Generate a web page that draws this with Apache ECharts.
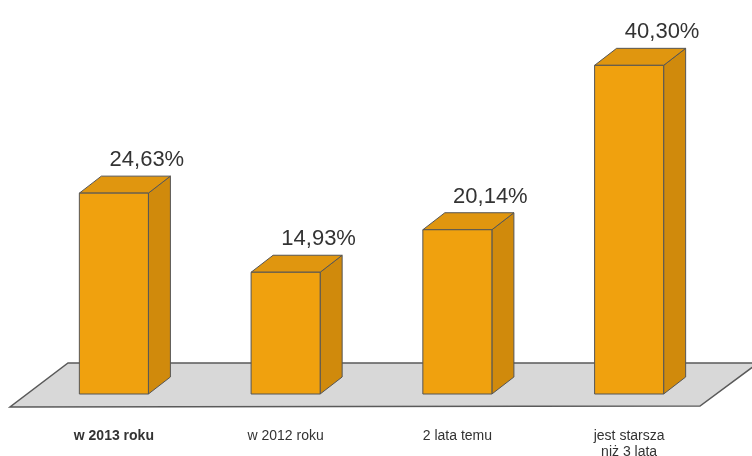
<!DOCTYPE html>
<html>
<head>
<meta charset="utf-8">
<script src="https://cdn.jsdelivr.net/npm/echarts@6/dist/echarts.min.js"></script>
<style>
html,body{margin:0;padding:0;background:#fff;}
#c{width:752px;height:456px;}
</style>
</head>
<body>
<div id="c"></div>
<script>
const categories = ['w 2013 roku', 'w 2012 roku', '2 lata temu', 'jest starsza\nniż 3 lata'];
const values = [24.63, 14.93, 20.14, 40.30];
const valueLabels = ['24,63%', '14,93%', '20,14%', '40,30%'];

const chart = echarts.init(document.getElementById('c'), null, {renderer: 'canvas'});
const DX = 22, DY = -17;
const EDGE = '#555555';

function renderFloor(params, api) {
  const cs = params.coordSys;
  const zy = api.coord([0, 0])[1];
  const l = cs.x, r = cs.x + cs.width;
  return {
    type: 'polygon',
    shape: {points: [[l - 18, zy + 13], [r - 15, zy + 12], [r + 43, zy - 31], [l + 40, zy - 31]]},
    style: {fill: '#d8d8d8', stroke: '#5a5a5a', lineWidth: 1.5}
  };
}

function renderBar(params, api) {
  const idx = api.value(0);
  const p = api.coord([idx, api.value(1)]);
  const b = api.coord([idx, 0]);
  const bw = api.size([1, 0])[0] * 0.402;
  const left = p[0] - bw / 2, right = p[0] + bw / 2, top = p[1], bottom = b[1];
  return {
    type: 'group',
    children: [
      {type: 'polygon', shape: {points: [[right, top], [right + DX, top + DY], [right + DX, bottom + DY], [right, bottom]]},
        style: {fill: '#d08a0c', stroke: EDGE, lineWidth: 1}},
      {type: 'polygon', shape: {points: [[left, top], [left + DX, top + DY], [right + DX, top + DY], [right, top]]},
        style: {fill: '#e0960f', stroke: EDGE, lineWidth: 1}},
      {type: 'rect', shape: {x: left, y: top, width: bw, height: bottom - top},
        style: {fill: '#f0a10e', stroke: EDGE, lineWidth: 1}},
      {type: 'text', x: p[0] + 33, y: top + DY - 5,
        style: {text: valueLabels[params.dataIndex], fill: '#333333', font: '22px "Liberation Sans", Arial, sans-serif',
          align: 'center', verticalAlign: 'bottom'}}
    ]
  };
}

chart.setOption({
  animation: false,
  grid: {left: 28, right: 37, top: 27, bottom: 62, containLabel: false, outerBoundsMode: 'none'},
  xAxis: {
    type: 'category',
    data: categories.map((c, i) => i === 0 ? {value: c, textStyle: {fontWeight: 'bold'}} : c),
    axisLine: {show: false}, axisTick: {show: false}, splitLine: {show: false},
    axisLabel: {margin: 34, color: '#333333', fontSize: 14, lineHeight: 16, fontFamily: '"Liberation Sans", Arial, sans-serif', interval: 0}
  },
  yAxis: {type: 'value', min: 0, max: 45, show: false, splitLine: {show: false}},
  series: [
    {type: 'custom', renderItem: renderFloor, data: [[0, 0]], z: 1, silent: true},
    {type: 'custom', renderItem: renderBar, data: values.map((v, i) => [i, v]), z: 2}
  ]
});
</script>
</body>
</html>
